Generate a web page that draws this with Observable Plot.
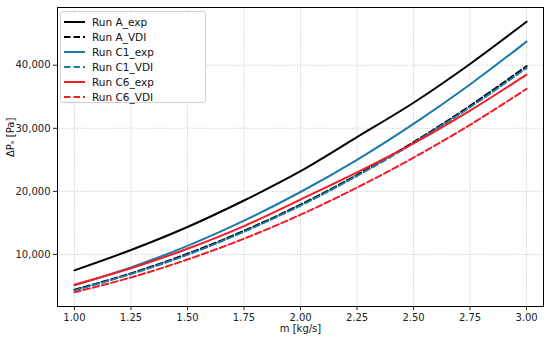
<!DOCTYPE html>
<html>
<head>
<meta charset="utf-8">
<script src="https://cdn.jsdelivr.net/npm/d3@7"></script>
<script src="https://cdn.jsdelivr.net/npm/@observablehq/plot@0.6"></script>
<style>
  html, body { margin: 0; padding: 0; background: #fff; }
  #wrap { position: relative; width: 550px; height: 341px; font-family: "DejaVu Sans", sans-serif; }
  #legend { position: absolute; left: 60px; top: 11px; width: 146px; height: 92px;
    border: 1px solid #d0d0d0; border-radius: 3px; background: rgba(255,255,255,0.85);
    box-sizing: border-box; padding-top: 2px; }
  .li { display: flex; align-items: center; height: 15px; font-size: 10.5px; color: #111; }
  .li svg { margin-left: 3px; margin-right: 7px; }
</style>
</head>
<body>
<div id="wrap"></div>
<script>
const xs = [1.00, 1.25, 1.50, 1.75, 2.00, 2.25, 2.50, 2.75, 3.00];
const runA_exp  = [7480, 10700, 14350, 18550, 23200, 28600, 34050, 40200, 46900];
const runA_VDI  = [4400, 7000, 10100, 13750, 17900, 22600, 27800, 33550, 39850];
const runC1_exp = [5100, 7950, 11350, 15350, 19900, 25000, 30700, 36950, 43750];
const runC1_VDI = [4300, 6900, 9950, 13600, 17750, 22450, 27650, 33350, 39550];
const runC6_exp = [5200, 7800, 10900, 14500, 18700, 23000, 27600, 32800, 38500];
const runC6_VDI = [4000, 6350, 9200, 12500, 16300, 20600, 25350, 30550, 36250];

const seriesNames = ["Run A_exp", "Run A_VDI", "Run C1_exp", "Run C1_VDI", "Run C6_exp", "Run C6_VDI"];
const seriesValues = [runA_exp, runA_VDI, runC1_exp, runC1_VDI, runC6_exp, runC6_VDI];
const seriesColors = ["#000000", "#000000", "#1b7aa8", "#1b7aa8", "#ef1d26", "#ef1d26"];
const seriesDashed = [false, true, false, true, false, true];

const xTicks = [1.00, 1.25, 1.50, 1.75, 2.00, 2.25, 2.50, 2.75, 3.00];
const yTicks = [10000, 20000, 30000, 40000];

const lineMarks = seriesNames.map((name, i) => {
  const rows = xs.map((x, j) => ({x, y: seriesValues[i][j]}));
  return Plot.line(rows, {
    x: "x", y: "y", stroke: seriesColors[i], strokeWidth: 2,
    strokeDasharray: seriesDashed[i] ? "6.5,3" : null, curve: "catmull-rom"
  });
});

const chart = Plot.plot({
  width: 550, height: 341,
  marginLeft: 57, marginRight: 7, marginTop: 7, marginBottom: 35,
  style: { fontFamily: "DejaVu Sans, sans-serif", fontSize: "10px", color: "#222", background: "#fff" },
  x: { domain: [0.925, 3.075] },
  y: { domain: [1745, 49155] },
  marks: [
    Plot.gridX(xTicks, { stroke: "#b8b8b8", strokeOpacity: 1, strokeDasharray: "1,1.5", strokeWidth: 0.8 }),
    Plot.gridY(yTicks, { stroke: "#b8b8b8", strokeOpacity: 1, strokeDasharray: "1,1.5", strokeWidth: 0.8 }),
    ...lineMarks,
    Plot.frame({ stroke: "#000", strokeWidth: 1 }),
    Plot.axisX(xTicks, { tickSize: 4, tickPadding: 3, tickFormat: d3.format(".2f"), label: null, fontSize: 10 }),
    Plot.axisY(yTicks, { tickSize: 4, tickPadding: 3, tickFormat: d3.format(","), label: null, fontSize: 10 }),
    Plot.text(["m [kg/s]"], { frameAnchor: "bottom", dy: 25, fontSize: 10, fill: "#111" }),
    Plot.text(["ΔPₛ [Pa]"], { frameAnchor: "left", dx: -47, rotate: -90, fontSize: 10, fill: "#111" })
  ]
});

const wrap = document.getElementById("wrap");
wrap.appendChild(chart);

const legend = document.createElement("div");
legend.id = "legend";
seriesNames.forEach((name, i) => {
  const item = document.createElement("div");
  item.className = "li";
  const dash = seriesDashed[i] ? ' stroke-dasharray="6.5,3"' : "";
  item.innerHTML = `<svg width="21" height="6"><line x1="0" y1="3" x2="21" y2="3" stroke="${seriesColors[i]}" stroke-width="2"${dash}/></svg><span>${name}</span>`;
  legend.appendChild(item);
});
wrap.appendChild(legend);
</script>
</body>
</html>
